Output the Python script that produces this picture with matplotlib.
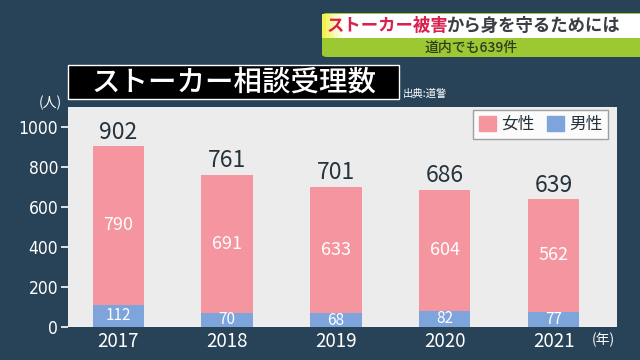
import matplotlib
matplotlib.use('Agg')
import matplotlib.pyplot as plt
from matplotlib.patches import Rectangle, FancyBboxPatch, Patch
import numpy as np

# stalker consultations (Hokkaido police)
years = ['2017', '2018', '2019', '2020', '2021']
female = [790, 691, 633, 604, 562]
male = [112, 70, 68, 82, 77]
totals = [902, 761, 701, 686, 639]
yticks = [0, 200, 400, 600, 800, 1000]

jp = ['Noto Sans CJK JP', 'DejaVu Sans']
plt.rcParams['font.family'] = jp

bg = '#284357'
pink = '#f5959f'
blue = '#7ea4dc'
W, H = 640, 360


def fx(px):
    return px / W


def fy(py):
    return 1 - py / H


fig = plt.figure(figsize=(6.4, 3.6), dpi=100, facecolor=bg)
ax = fig.add_axes([fx(68), fy(327), fx(617) - fx(68), fy(107) - fy(327)])
ax.set_facecolor('#ececec')

x = np.arange(len(years))
w = 0.47
ax.bar(x, male, w, color=blue, zorder=2)
ax.bar(x, female, w, bottom=male, color=pink, zorder=2)

for i in range(len(years)):
    ax.text(x[i], male[i] / 2, str(male[i]), ha='center', va='center',
            color='white', fontsize=11, zorder=3)
    ax.text(x[i], male[i] + female[i] / 2, str(female[i]), ha='center', va='center',
            color='white', fontsize=13, zorder=3)
    ax.text(x[i], totals[i] + 12, str(totals[i]), ha='center', va='bottom',
            color='#26333d', fontsize=16.5, zorder=3)

ax.set_xlim(-0.46, 4.58)
ax.set_ylim(0, 1098)
ax.set_xticks(x)
ax.set_xticklabels(years, fontsize=13.5, color='white')
ax.set_yticks(yticks)
ax.set_yticklabels([str(v) for v in yticks], fontsize=12.5, color='white',
                   family=['DejaVu Sans'], fontstretch='condensed')
ax.tick_params(axis='x', length=0, pad=3)
ax.tick_params(axis='y', length=5, width=1.2, color='white', pad=2)
for s in ax.spines.values():
    s.set_visible(False)

leg = ax.legend(handles=[Patch(color=pink, label='女性'), Patch(color=blue, label='男性')],
                loc='upper right', bbox_to_anchor=(0.984, 0.986), borderaxespad=0,
                ncol=2, fontsize=12, frameon=True, fancybox=False,
                handlelength=1.0, handleheight=1.0, handletextpad=0.3, columnspacing=0.8,
                borderpad=0.35)
leg.get_frame().set_edgecolor('#8a8a8a')
leg.get_frame().set_linewidth(1.0)
for t in leg.get_texts():
    t.set_color('#26333d')

fig.text(fx(50), fy(103), '(人)', color='white', fontsize=10, ha='center', va='center')
fig.text(fx(603), fy(340), '(年)', color='white', fontsize=10, ha='center', va='center')

# title box
fig.patches.append(Rectangle((fx(68), fy(99)), fx(399) - fx(68), fy(65) - fy(99),
                             transform=fig.transFigure, facecolor='black',
                             edgecolor='white', linewidth=1.0))
fig.text(fx(234), fy(82), 'ストーカー相談受理数', color='white', fontsize=20.5,
         ha='center', va='center', weight='medium')
fig.text(fx(403), fy(94), '出典:道警', color='white', fontsize=7.5, ha='left', va='center')

# banner top right
fig.patches.append(FancyBboxPatch((fx(322), fy(57)), fx(660) - fx(322), fy(13) - fy(57),
                                  boxstyle='round,pad=0,rounding_size=0.008',
                                  transform=fig.transFigure, facecolor='#9cc832',
                                  edgecolor='none'))
fig.patches.append(Rectangle((fx(322), fy(38)), fx(640) - fx(322), fy(14) - fy(38),
                             transform=fig.transFigure, facecolor='white', edgecolor='none'))
for k, a in enumerate([0.9, 0.7, 0.5, 0.3, 0.15]):
    fig.patches.append(Rectangle((fx(322 + 4 * k), fy(38)), fx(4), fy(14) - fy(38),
                                 transform=fig.transFigure, facecolor='#f2f03a',
                                 edgecolor='none', alpha=a))
fig.text(fx(327), fy(26), 'ストーカー被害', color='#d9214f', fontsize=12.5,
         weight='bold', ha='left', va='center')
fig.text(fx(446), fy(26), 'から身を守るためには', color='#3a3f45', fontsize=12.5,
         weight='bold', ha='left', va='center')
fig.text(fx(471), fy(48), '道内でも639件', color='#2f3a20', fontsize=10,
         ha='center', va='center', weight='medium')

fig.savefig('out.png', dpi=100, facecolor=bg)
